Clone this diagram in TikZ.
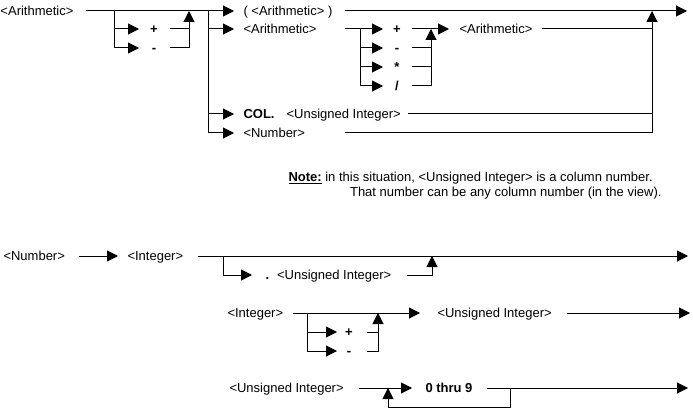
\documentclass[tikz,border=0pt]{standalone}
\usepackage{fontspec}
\setmainfont{Liberation Sans}
\usetikzlibrary{arrows.meta}
\begin{document}
\begin{tikzpicture}[x=1pt,y=-1pt,line width=1pt,
  lbl/.style={anchor=base west,inner sep=0pt,font=\fontsize{13}{15}\selectfont},
  lblr/.style={anchor=base east,inner sep=0pt,font=\fontsize{13}{15}\selectfont},
  op/.style={anchor=base,inner sep=0pt,font=\fontsize{13}{15}\selectfont\bfseries},
  arr/.style={-{Triangle[length=11pt,width=11pt]}}]
\useasboundingbox (0,0) rectangle (693,409);

% ---------- texts ----------
\node[lbl] (a0) at (0,15.7) {<Arithmetic>};
\node[op]  (p1) at (154,33.7) {+};
\node[op]  (m1) at (154,52.7) {-};
\node[lbl] (a1) at (243,15.7) {( <Arithmetic> )};
\node[lbl] (a2) at (243,33.7) {<Arithmetic>};
\node[op]  (o1) at (397,33.7) {+};
\node[op]  (o2) at (397,52.7) {-};
\node[op]  (o3) at (397,71.7) {*};
\node[op]  (o4) at (397,90.7) {/};
\node[lbl] (a3) at (459,33.7) {<Arithmetic>};
\node[lbl] (col) at (243,118.7) {\textbf{COL.}\hspace{12pt}<Unsigned Integer>};
\node[lbl] (num) at (243,137.7) {<Number>};
\node[lbl] (n1) at (288,181.7) {\underline{\textbf{Note:}} in this situation, <Unsigned Integer> is a column number.};
\node[lblr] (n2) at (662,196.7) {That number can be any column number (in the view).};

\node[lbl] (b0) at (3,260.7) {<Number>};
\node[lbl] (b1) at (127,260.7) {<Integer>};
\node[lbl] (b2) at (265,279.7) {\textbf{.}\hspace{8pt}<Unsigned Integer>};
\node[lbl] (c0) at (227,317.7) {<Integer>};
\node[op]  (c1) at (349,336.7) {+};
\node[op]  (c2) at (349,355.7) {-};
\node[lbl] (c3) at (437,317.7) {<Unsigned Integer>};
\node[lbl] (d0) at (229,392.7) {<Unsigned Integer>};
\node[lbl] (d1) at (425,392.7) {\textbf{0 thru 9}};

% ---------- junction coordinates ----------
\coordinate (t0) at (86,11);   \coordinate (t1) at (234,11);
\coordinate (s1) at (114,11);  \coordinate (s1a) at (114,29); \coordinate (s1b) at (139,48); \coordinate (s1c) at (139,29);
\coordinate (r1a) at (170,29); \coordinate (r1b) at (189,29); \coordinate (r1c) at (170,48); \coordinate (r1d) at (189,11);
\coordinate (s2) at (208,11);  \coordinate (s2a) at (208,29); \coordinate (s2b) at (208,114);
\coordinate (e2a) at (234,29); \coordinate (e2b) at (234,114); \coordinate (e2c) at (234,133);
\coordinate (t2) at (345,11);  \coordinate (t3) at (687,11);
\coordinate (u0) at (345,29);  \coordinate (u1) at (360,29);
\coordinate (u2) at (360,48);  \coordinate (u3) at (360,67);
\coordinate (v1) at (383,29);  \coordinate (v2) at (383,48); \coordinate (v3) at (383,67); \coordinate (v4) at (383,86);
\coordinate (w1) at (412,29);  \coordinate (w2) at (412,48); \coordinate (w3) at (412,67); \coordinate (w4) at (412,86);
\coordinate (x1) at (431,29);  \coordinate (x2) at (431,48); \coordinate (x3) at (431,67);
\coordinate (y1) at (449,29);
\coordinate (z1) at (542,29);  \coordinate (z2) at (652,29);
\coordinate (z3) at (408,114); \coordinate (z4) at (652,114);
\coordinate (z5) at (345,133); \coordinate (z6) at (652,11);

\coordinate (g0) at (79,256);  \coordinate (g1) at (118,256);
\coordinate (g2) at (198,256); \coordinate (g3) at (688,256);
\coordinate (g4) at (223,256); \coordinate (g5) at (252,275);
\coordinate (g6) at (407,275); \coordinate (g7) at (432,256);
\coordinate (h0) at (293,313); \coordinate (h1) at (420,313);
\coordinate (h2) at (307,313); \coordinate (h3) at (337,351);
\coordinate (h4) at (307,332); \coordinate (h5) at (337,332);
\coordinate (h6) at (367,332); \coordinate (h7) at (378,332);
\coordinate (h8) at (367,351); \coordinate (h9) at (378,313);
\coordinate (k0) at (567,313); \coordinate (k1) at (690,313);
\coordinate (m0) at (359,388); \coordinate (m1) at (412,388);
\coordinate (m2) at (487,388); \coordinate (m3) at (688,388);
\coordinate (m4) at (510,388); \coordinate (m5) at (510,407);
\coordinate (m6) at (388,407); \coordinate (m7) at (388,388);

% ---------- connectors: Arithmetic ----------
\draw[arr] (t0) -- (t1);
\draw[arr] (s1) |- (s1b);
\draw[arr] (s1a) -- (s1c);
\draw (r1a) -- (r1b);
\draw[arr] (r1c) -| (r1d);
\draw[arr] (s2) |- (e2c);
\draw[arr] (s2a) -- (e2a);
\draw[arr] (s2b) -- (e2b);
\draw[arr] (t2) -- (t3);
\draw[arr] (u0) -- (v1);
\draw[arr] (u1) |- (v4);
\draw[arr] (u2) -- (v2);
\draw[arr] (u3) -- (v3);
\draw (w1) -- (x1);
\draw (w2) -- (x2);
\draw (w3) -- (x3);
\draw[arr] (w4) -| (x1);
\draw[arr] (x1) -- (y1);
\draw (z1) -- (z2);
\draw (z3) -- (z4);
\draw[arr] (z5) -| (z6);

% ---------- connectors: Number ----------
\draw[arr] (g0) -- (g1);
\draw[arr] (g2) -- (g3);
\draw[arr] (g4) |- (g5);
\draw[arr] (g6) -| (g7);
\draw[arr] (h0) -- (h1);
\draw[arr] (h2) |- (h3);
\draw[arr] (h4) -- (h5);
\draw (h6) -- (h7);
\draw[arr] (h8) -| (h9);
\draw[arr] (k0) -- (k1);
\draw[arr] (m0) -- (m1);
\draw[arr] (m2) -- (m3);
\draw[arr] (m4) -- (m5) -- (m6) -- (m7);
\end{tikzpicture}
\end{document}
